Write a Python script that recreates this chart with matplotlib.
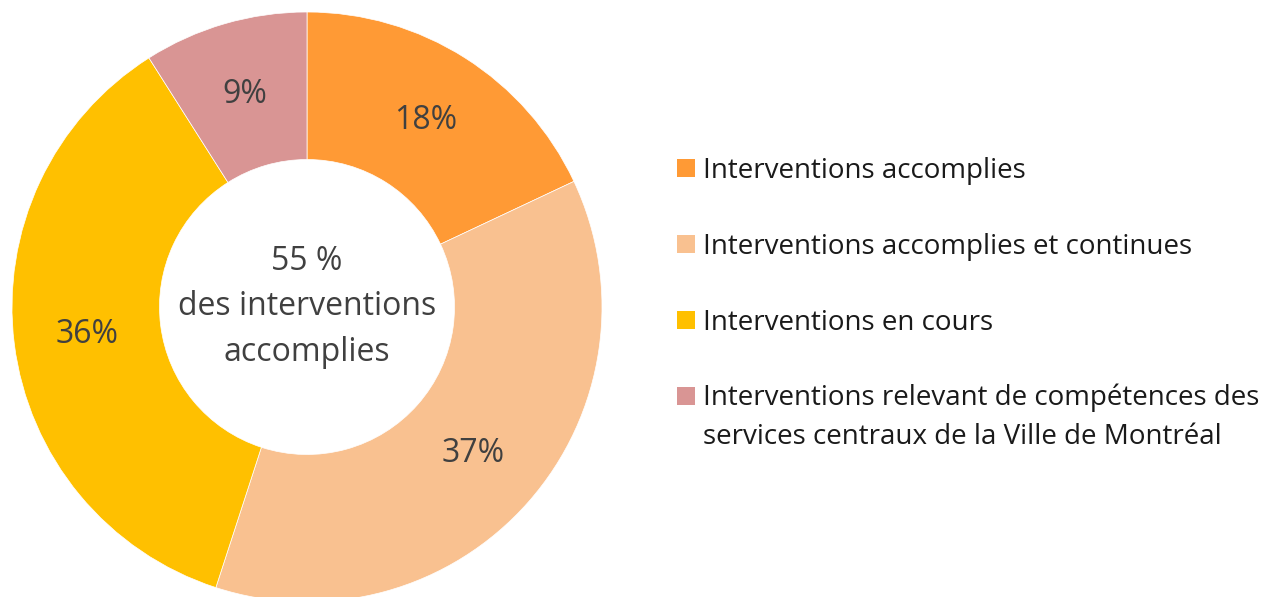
import matplotlib.pyplot as plt
from matplotlib.patches import Rectangle

labels = ['Interventions accomplies',
          'Interventions accomplies et continues',
          'Interventions en cours',
          'Interventions relevant de compétences des\nservices centraux de la Ville de Montréal']
values = [18, 37, 36, 9]
colors = ['#FF9A35', '#F9C190', '#FFC000', '#D99594']
center_text = '55 %\ndes interventions\naccomplies'

plt.rcParams['font.family'] = ['Open Sans', 'DejaVu Sans']

fig = plt.figure(figsize=(12.7, 5.97), dpi=100)
W, H = 1270, 597
cx, cy, r = 307, 307, 295
ax = fig.add_axes([(cx - r) / W, (H - cy - r) / H, 2 * r / W, 2 * r / H])

wedges, texts, autotexts = ax.pie(
    values, colors=colors, startangle=90, counterclock=False,
    radius=1, wedgeprops=dict(width=0.5, edgecolor='white', linewidth=0.5),
    autopct=lambda p: f'{p:.0f}%', pctdistance=0.75,
    textprops=dict(color='#404040', fontsize=23))
ax.set_xlim(-1, 1)
ax.set_ylim(-1, 1)
ax.set_aspect('equal')
ax.axis('off')

ax.text(0, 0.0, center_text, ha='center', va='center', fontsize=23,
        color='#404040', linespacing=1.5)

# legend drawn by hand so the last square sits on the first text line
row_y = 168
for lab, c in zip(labels, colors):
    y = 1 - row_y / H
    fig.patches.append(Rectangle((677 / W, y - 9 / H), 18 / W, 18 / H,
                                 facecolor=c, transform=fig.transFigure))
    if '\n' in lab:
        fig.text(703 / W, y + 12 / H, lab, ha='left', va='top',
                 fontsize=20, color='#1a1a1a', linespacing=1.5)
    else:
        fig.text(703 / W, y - 3 / H, lab, ha='left', va='center',
                 fontsize=20, color='#1a1a1a')
    row_y += 76

fig.savefig('out.png', dpi=100)
